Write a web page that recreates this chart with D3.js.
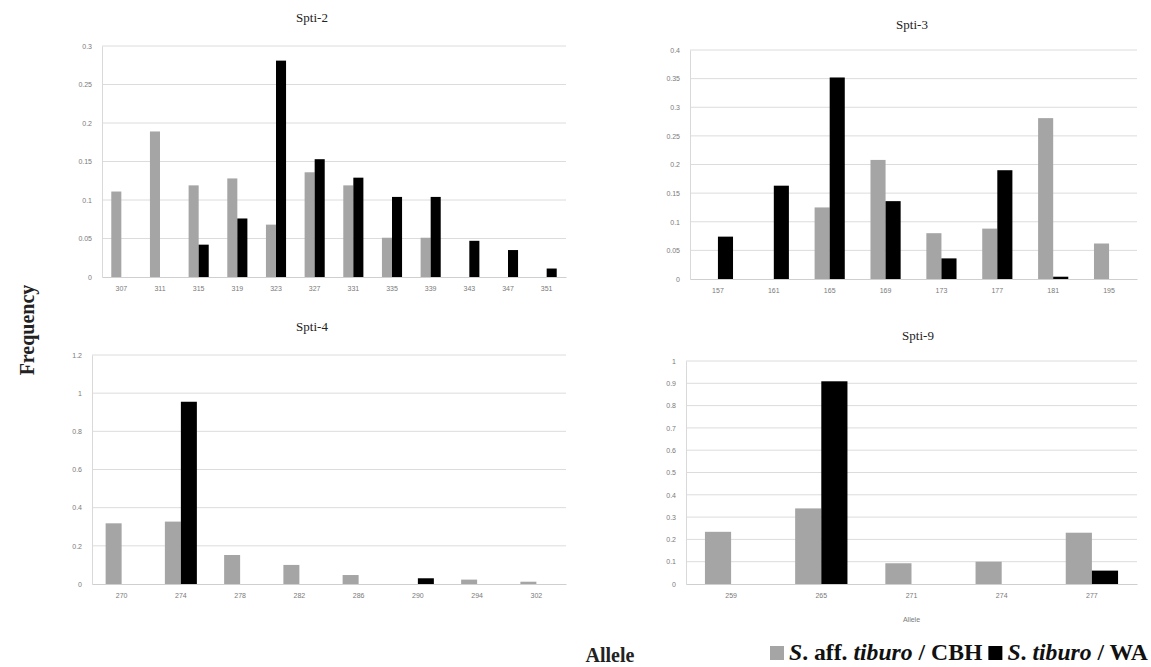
<!DOCTYPE html>
<html>
<head>
<meta charset="utf-8">
<script src="https://cdn.jsdelivr.net/npm/d3@7"></script>
<style>
  body { margin: 0; background: #fff; }
  svg { display: block; }
  .tick text { font-family: "Liberation Sans", sans-serif; font-size: 7px; fill: #7a7a7a; }
</style>
</head>
<body>
<svg id="chart" width="1151" height="667"></svg>
<script>
// Spti-2
const spti2Alleles = ["307", "311", "315", "319", "323", "327", "331", "335", "339", "343", "347", "351"];
const spti2CBH = [0.111, 0.189, 0.119, 0.128, 0.068, 0.136, 0.119, 0.051, 0.051, 0, 0, 0];
const spti2WA  = [0, 0, 0.042, 0.076, 0.281, 0.153, 0.129, 0.104, 0.104, 0.047, 0.035, 0.011];
const spti2Ticks = [0, 0.05, 0.1, 0.15, 0.2, 0.25, 0.3];

// Spti-3
const spti3Alleles = ["157", "161", "165", "169", "173", "177", "181", "195"];
const spti3CBH = [0, 0, 0.125, 0.208, 0.08, 0.088, 0.281, 0.062];
const spti3WA  = [0.074, 0.163, 0.352, 0.136, 0.036, 0.19, 0.004, 0];
const spti3Ticks = [0, 0.05, 0.1, 0.15, 0.2, 0.25, 0.3, 0.35, 0.4];

// Spti-4
const spti4Alleles = ["270", "274", "278", "282", "286", "290", "294", "302"];
const spti4CBH = [0.318, 0.327, 0.152, 0.1, 0.047, 0, 0.023, 0.012];
const spti4WA  = [0, 0.955, 0, 0, 0, 0.03, 0, 0];
const spti4Ticks = [0, 0.2, 0.4, 0.6, 0.8, 1, 1.2];

// Spti-9
const spti9Alleles = ["259", "265", "271", "274", "277"];
const spti9CBH = [0.234, 0.339, 0.093, 0.1, 0.23];
const spti9WA  = [0, 0.909, 0, 0, 0.06];
const spti9Ticks = [0, 0.1, 0.2, 0.3, 0.4, 0.5, 0.6, 0.7, 0.8, 0.9, 1];

const colors = ["#a5a5a5", "#000000"];
const svg = d3.select("#chart");

function panel(opts) {
  const { title, alleles, cbh, wa, ticks, left, right, top, bottom, titleX, titleY, barFrac, xLabel } = opts;
  const g = svg.append("g");

  const x = d3.scaleBand().domain(alleles).range([left, right]).padding(0);
  const y = d3.scaleLinear().domain([0, d3.max(ticks)]).range([bottom, top]);

  // gridlines
  g.selectAll("line.grid")
    .data(ticks.slice(1))
    .enter().append("line")
    .attr("x1", left).attr("x2", right)
    .attr("y1", d => y(d)).attr("y2", d => y(d))
    .attr("stroke", "#dcdcdc").attr("stroke-width", 1);

  // y axis
  const yAxis = g.append("g")
    .attr("transform", "translate(" + left + ",0)")
    .call(d3.axisLeft(y).tickValues(ticks).tickSize(0).tickPadding(10).tickFormat(d3.format("~g")));
  yAxis.select(".domain").attr("stroke", "#d9d9d9");

  // bars, two series side by side around the band centre
  const bw = x.bandwidth() * barFrac;
  alleles.forEach((a, i) => {
    [cbh[i], wa[i]].forEach((v, s) => {
      if (v <= 0) return;
      g.append("rect")
        .attr("x", x(a) + x.bandwidth() / 2 - bw + s * bw)
        .attr("y", y(v))
        .attr("width", bw)
        .attr("height", y(0) - y(v))
        .attr("fill", colors[s]);
    });
  });

  // x axis
  const xAxis = g.append("g")
    .attr("transform", "translate(0," + bottom + ")")
    .call(d3.axisBottom(x).tickSize(0).tickPadding(9));
  xAxis.select(".domain").attr("stroke", "#cfcfcf");

  g.append("text")
    .attr("x", titleX).attr("y", titleY)
    .attr("text-anchor", "middle")
    .attr("font-family", "Liberation Serif, serif")
    .attr("font-size", 13)
    .attr("fill", "#222")
    .text(title);

  if (xLabel) {
    g.append("text")
      .attr("x", (left + right) / 2).attr("y", bottom + 38)
      .attr("text-anchor", "middle")
      .attr("font-family", "Liberation Sans, sans-serif")
      .attr("font-size", 7)
      .attr("fill", "#7a7a7a")
      .text(xLabel);
  }
}

panel({ title: "Spti-2", alleles: spti2Alleles, cbh: spti2CBH, wa: spti2WA, ticks: spti2Ticks,
  left: 102, right: 566, top: 46, bottom: 277, titleX: 312, titleY: 22, barFrac: 0.26 });
panel({ title: "Spti-3", alleles: spti3Alleles, cbh: spti3CBH, wa: spti3WA, ticks: spti3Ticks,
  left: 690, right: 1137, top: 50, bottom: 279, titleX: 912, titleY: 29, barFrac: 0.27 });
panel({ title: "Spti-4", alleles: spti4Alleles, cbh: spti4CBH, wa: spti4WA, ticks: spti4Ticks,
  left: 92, right: 566, top: 355, bottom: 584, titleX: 312, titleY: 331, barFrac: 0.27 });
panel({ title: "Spti-9", alleles: spti9Alleles, cbh: spti9CBH, wa: spti9WA, ticks: spti9Ticks,
  left: 686, right: 1137, top: 361, bottom: 584, titleX: 918, titleY: 340, barFrac: 0.29, xLabel: "Allele" });

// axis titles
svg.append("text")
  .attr("transform", "translate(34,330) rotate(-90)")
  .attr("text-anchor", "middle")
  .attr("font-family", "Liberation Serif, serif")
  .attr("font-weight", "bold")
  .attr("font-size", 20)
  .attr("fill", "#222")
  .text("Frequency");

svg.append("text")
  .attr("x", 610).attr("y", 662)
  .attr("text-anchor", "middle")
  .attr("font-family", "Liberation Serif, serif")
  .attr("font-weight", "bold")
  .attr("font-size", 20)
  .attr("fill", "#222")
  .text("Allele");

// legend: font size picked so the row spans 770..1148
const legendParts = [
  [["S", true], [". aff. ", false], ["tiburo", true], [" / CBH", false]],
  [["S", true], [". ", false], ["tiburo", true], [" / WA", false]]
];
function drawLegend(fs) {
  svg.select("g.legend").remove();
  const legend = svg.append("g").attr("class", "legend")
    .attr("transform", "translate(770,660)")
    .attr("font-family", "Liberation Serif, serif")
    .attr("font-weight", "bold")
    .attr("font-size", fs)
    .attr("fill", "#111");
  let lx = 0, tw = 0;
  legendParts.forEach((parts, s) => {
    legend.append("rect").attr("x", lx).attr("y", -14).attr("width", 14).attr("height", 14).attr("fill", colors[s]);
    const t = legend.append("text").attr("x", lx + 19).attr("y", 0);
    parts.forEach(p => t.append("tspan").attr("font-style", p[1] ? "italic" : "normal").text(p[0]));
    const w = t.node().getComputedTextLength();
    tw += w;
    lx += 19 + w + 6;
  });
  return tw;
}
const tw17 = drawLegend(17);
const fixed = 2 * 19 + 6;
drawLegend(17 * (378 - fixed) / tw17);
</script>
</body>
</html>
